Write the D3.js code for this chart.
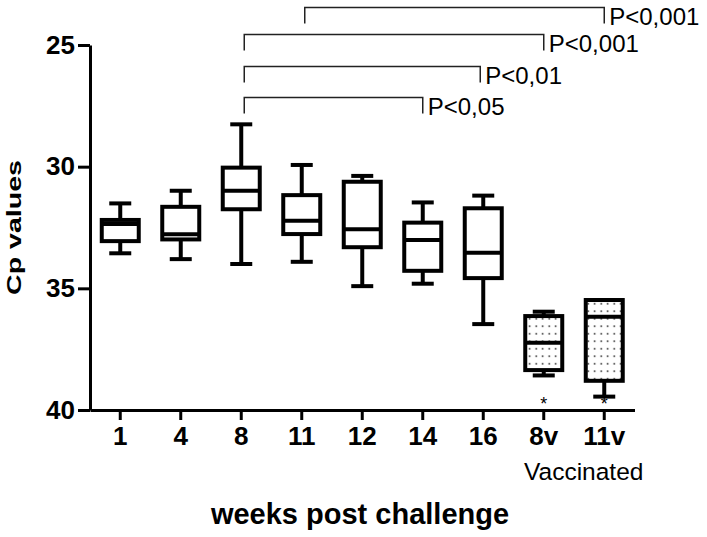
<!DOCTYPE html>
<html>
<head>
<meta charset="utf-8">
<script src="https://cdn.jsdelivr.net/npm/d3@7/dist/d3.min.js"></script>
<style>
  html, body { margin: 0; padding: 0; background: #fff; }
  svg { display: block; font-family: Arial, "Liberation Sans", sans-serif; }
</style>
</head>
<body>
<svg id="chart" width="707" height="537"></svg>
<script>
// ---- data ----
const categories = ["1", "4", "8", "11", "12", "14", "16", "8v", "11v"];
const whiskerLow  = [31.51, 30.99, 28.26, 29.93, 30.38, 31.47, 31.19, 35.96, 35.48]; // smallest Cp (top)
const q1          = [32.19, 31.65, 30.04, 31.17, 30.62, 32.30, 31.71, 36.14, 35.48];
const medians     = [32.36, 32.78, 30.99, 32.22, 32.57, 33.01, 33.54, 37.24, 36.17];
const q3          = [33.06, 32.99, 31.75, 32.77, 33.31, 34.28, 34.58, 38.36, 38.80];
const whiskerHigh = [33.56, 33.80, 34.00, 33.91, 34.91, 34.81, 36.47, 38.58, 39.45]; // largest Cp (bottom)
const vaccinated  = [false, false, false, false, false, false, false, true, true];
const yTicks = [25, 30, 35, 40];
const bracketFrom   = ["11", "8", "8", "8"];
const bracketTo     = ["11v", "8v", "16", "14"];
const bracketLabels = ["P<0,001", "P<0,001", "P<0,01", "P<0,05"];

// ---- layout ----
const FONT = "Arial, 'Liberation Sans', sans-serif";
const svg = d3.select("#chart");
const x = d3.scaleBand().domain(categories).range([90, 634.5]).paddingInner(0).paddingOuter(0);
const cx = c => x(c) + x.bandwidth() / 2;
const y = d3.scaleLinear().domain([25, 40]).range([45, 410]);

// pattern for vaccinated boxes
const defs = svg.append("defs");
const pat = defs.append("pattern").attr("id", "dots").attr("patternUnits", "userSpaceOnUse")
  .attr("width", 6.5).attr("height", 7.5);
pat.append("rect").attr("width", 6.5).attr("height", 7.5).attr("fill", "#fff");
pat.append("circle").attr("cx", 3.2).attr("cy", 3.7).attr("r", 0.9).attr("fill", "#333");

// y axis
const yAxis = svg.append("g").attr("transform", "translate(90,0)")
  .call(d3.axisLeft(y).tickValues(yTicks).tickSize(12).tickPadding(3).tickSizeOuter(0));
yAxis.select(".domain").attr("stroke", "#000").attr("stroke-width", 3);
yAxis.selectAll(".tick line").attr("stroke", "#000").attr("stroke-width", 3);
yAxis.selectAll(".tick text").attr("fill", "#000").attr("font-size", 26).attr("font-weight", "bold")
  .attr("font-family", FONT);

// x axis
const xAxis = svg.append("g").attr("transform", "translate(0,410)")
  .call(d3.axisBottom(x).tickSize(10).tickPadding(7).tickSizeOuter(0));
xAxis.select(".domain").attr("stroke", "#000").attr("stroke-width", 3);
xAxis.selectAll(".tick line").attr("stroke", "#000").attr("stroke-width", 3);
xAxis.selectAll(".tick text").attr("fill", "#000").attr("font-size", 26).attr("font-weight", "bold")
  .attr("font-family", FONT);

// boxes
const boxW = 37, capW = 22, sw = 4;
const data = categories.map((c, i) => ({
  c, lo: whiskerLow[i], q1: q1[i], med: medians[i], q3: q3[i], hi: whiskerHigh[i], vac: vaccinated[i]
}));
const g = svg.append("g").attr("stroke", "#000").attr("stroke-width", sw).attr("fill", "none");
data.forEach(d => {
  const xc = cx(d.c);
  g.append("line").attr("x1", xc).attr("x2", xc).attr("y1", y(d.lo)).attr("y2", y(d.q1));
  g.append("line").attr("x1", xc).attr("x2", xc).attr("y1", y(d.q3)).attr("y2", y(d.hi));
  g.append("line").attr("x1", xc - capW / 2).attr("x2", xc + capW / 2).attr("y1", y(d.lo)).attr("y2", y(d.lo));
  g.append("line").attr("x1", xc - capW / 2).attr("x2", xc + capW / 2).attr("y1", y(d.hi)).attr("y2", y(d.hi));
  g.append("rect").attr("x", xc - boxW / 2).attr("width", boxW)
    .attr("y", y(d.q1)).attr("height", y(d.q3) - y(d.q1))
    .attr("fill", d.vac ? "url(#dots)" : "#fff");
  g.append("line").attr("x1", xc - boxW / 2).attr("x2", xc + boxW / 2).attr("y1", y(d.med)).attr("y2", y(d.med));
  if (d.vac) {
    svg.append("text").attr("x", xc).attr("y", 410).attr("text-anchor", "middle")
      .attr("font-size", 18).attr("fill", "#000").text("*");
  }
});

// significance brackets
const bracketY = [7.5, 34.5, 66.5, 97.5];
const bg = svg.append("g");
bracketFrom.forEach((f, i) => {
  const x1 = cx(f) + 3, x2 = cx(bracketTo[i]) - (bracketTo[i] === "16" ? 3 : 0);
  const yy = bracketY[i], leg = 16;
  bg.append("path").attr("d", `M${x1},${yy + leg}V${yy}H${x2}V${yy + leg}`)
    .attr("fill", "none").attr("stroke", "#222").attr("stroke-width", 1.5);
  bg.append("text").attr("x", x2 + 5).attr("y", yy + 9).attr("dy", "0.35em")
    .attr("font-size", 24).attr("fill", "#000").text(bracketLabels[i]);
});

// labels
svg.append("text").attr("x", 524).attr("y", 480)
  .attr("font-size", 24.5).attr("fill", "#000").text("Vaccinated");
svg.append("text").attr("x", 360).attr("y", 524).attr("text-anchor", "middle")
  .attr("font-size", 29).attr("font-weight", "bold").attr("fill", "#000").text("weeks post challenge");
svg.append("text").attr("transform", "translate(21,227.5) rotate(-90)").attr("text-anchor", "middle")
  .attr("font-size", 21).attr("font-weight", "bold").attr("fill", "#000")
  .attr("textLength", 135).attr("lengthAdjust", "spacingAndGlyphs").text("Cp values");
</script>
</body>
</html>
